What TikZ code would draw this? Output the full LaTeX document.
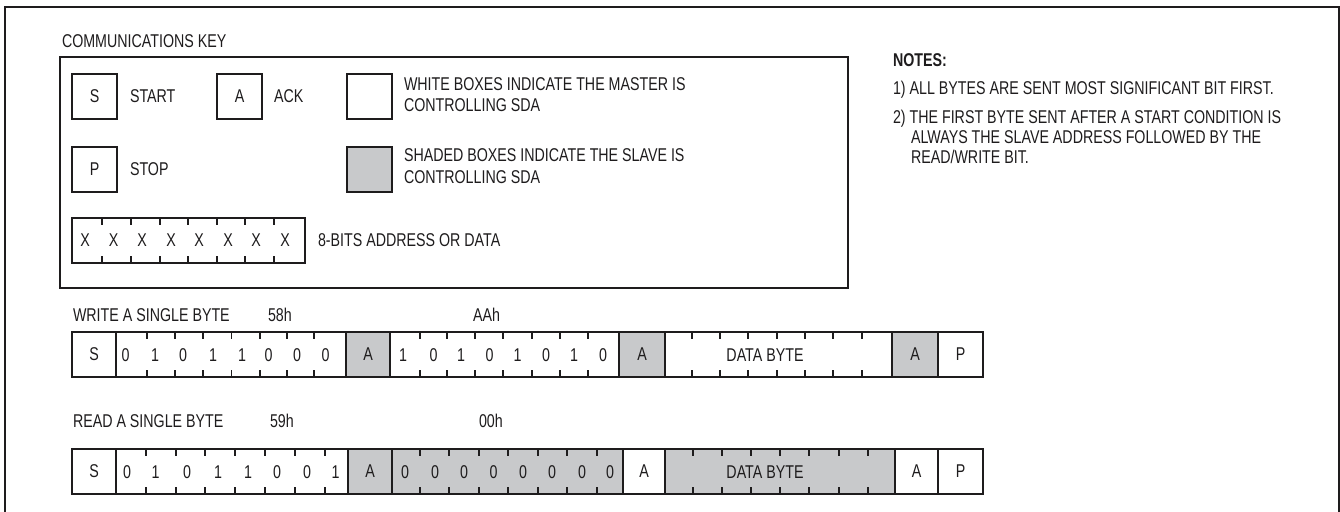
\documentclass[tikz,border=0pt]{standalone}
\usepackage{fontspec}
\setmainfont{Liberation Sans}[FakeStretch=0.77]
\definecolor{shade}{RGB}{200,201,203}
\definecolor{ink}{RGB}{30,28,29}
\tikzset{
  cell/.style={draw=ink, line width=1.3bp, inner sep=0pt, outer sep=0pt, minimum height=45bp, text=ink, anchor=north west},
  shadedcell/.style={cell, fill=shade},
  txt/.style={inner sep=0pt, outer sep=0pt, text=ink, anchor=base west},
  dig/.style={inner sep=0pt, outer sep=0pt, text=ink, anchor=base},
  tickline/.style={draw=ink, line width=1.3bp},
}
\newcommand\bitticks[3]{\foreach \tx in {#3} {\draw[tickline] (\tx,#1) -- ++(0,7); \draw[tickline] (\tx,#2) -- ++(0,-7);}}
\begin{document}
\begin{tikzpicture}[x=1bp,y=-1bp,font=\fontsize{18.5bp}{22bp}\selectfont]
\useasboundingbox (0,0) rectangle (1340,512);
% outer frame
\draw[ink, line width=2.2bp] (5,512) -- (5,7) -- (1339,7) -- (1339,512);

% ---------- communications key ----------
\node[txt] (title) at (62,48) {COMMUNICATIONS KEY};
\node[draw=ink, line width=1.4bp, inner sep=0pt, outer sep=0pt, minimum width=788bp, minimum height=231bp, anchor=north west] (key) at (60,57) {};

\node[cell, minimum width=45bp] (ks) at (72,74) {S};
\node[txt] (kstart) at (130,103) {START};
\node[cell, minimum width=45bp] (ka) at (217,74) {A};
\node[txt] (kack) at (274,103) {ACK};
\node[cell, minimum width=45bp] (kw) at (347,74) {};
\node[txt] (kw1) at (404,90.5) {WHITE BOXES INDICATE THE MASTER IS};
\node[txt] (kw2) at (404,112) {CONTROLLING SDA};

\node[cell, minimum width=45bp] (kp) at (72,147) {P};
\node[txt] (kstop) at (130,176) {STOP};
\node[shadedcell, minimum width=45bp] (kg) at (347,147) {};
\node[txt] (kg1) at (404,162) {SHADED BOXES INDICATE THE SLAVE IS};
\node[txt] (kg2) at (404,183.5) {CONTROLLING SDA};

\node[cell, minimum width=233bp] (kx) at (72,218) {};
\bitticks{218}{263}{102,131,160,188,217,245,274}
\foreach \x [count=\i] in {85,113.5,142,171,199,228,256,285} \node[dig] (kx\i) at (\x,247) {X};
\node[txt] (kxlabel) at (318,247) {8-BITS ADDRESS OR DATA};

% ---------- notes ----------
\node[txt, font=\fontsize{18.5bp}{22bp}\selectfont\bfseries] (notes) at (893,67) {NOTES:};
\node[txt] (n1) at (893,95) {1) ALL BYTES ARE SENT MOST SIGNIFICANT BIT FIRST.};
\node[txt] (n2a) at (893,123.5) {2) THE FIRST BYTE SENT AFTER A START CONDITION IS};
\node[txt] (n2b) at (911,143.5) {ALWAYS THE SLAVE ADDRESS FOLLOWED BY THE};
\node[txt] (n2c) at (911,163.5) {READ/WRITE BIT.};

% ---------- write a single byte ----------
\node[txt] (wtitle) at (73,321) {WRITE A SINGLE BYTE};
\node[txt] (w58) at (268,321) {58h};
\node[txt] (wAA) at (473,321) {AAh};

\node[cell, minimum width=44bp] (ws) at (72,332) {S};
\node[cell, minimum width=230bp] (wb1) at (116,332) {};
\node[shadedcell, minimum width=44bp] (wa1) at (346,332) {A};
\node[cell, minimum width=229bp] (wb2) at (390,332) {};
\node[shadedcell, minimum width=46bp] (wa2) at (619,332) {A};
\node[cell, minimum width=227bp] (wd) at (665,332) {};
\node[shadedcell, minimum width=46bp] (wa3) at (892,332) {A};
\node[cell, minimum width=45bp] (wp) at (938,332) {P};
\bitticks{332}{377}{147,175,203,231.5,260,287,314}
\bitticks{332}{377}{420,447,475,503,532,560,588}
\bitticks{332}{377}{692,720,748,777,805,833,862}
\foreach \x/\d [count=\i] in {125.5/0,155/1,183/0,213/1,242/1,268.5/0,297/0,325.5/0} \node[dig] (wx\i) at (\x,361) {\d};
\foreach \x/\d [count=\i] in {403/1,433.5/0,461/1,489.5/0,517.5/1,546/0,574/1,603/0} \node[dig] (wy\i) at (\x,361) {\d};
\node[dig] (wdtext) at (765,361) {DATA BYTE};

% ---------- read a single byte ----------
\node[txt] (rtitle) at (73,427) {READ A SINGLE BYTE};
\node[txt] (r59) at (270,427) {59h};
\node[txt] (r00) at (479,427) {00h};

\node[cell, minimum width=44bp] (rs) at (72,449) {S};
\node[cell, minimum width=232bp] (rb1) at (116,449) {};
\node[shadedcell, minimum width=44bp] (ra1) at (348,449) {A};
\node[shadedcell, minimum width=231bp] (rb2) at (392,449) {};
\node[cell, minimum width=42bp] (ra2) at (623,449) {A};
\node[shadedcell, minimum width=230bp] (rd) at (665,449) {};
\node[cell, minimum width=43bp] (ra3) at (895,449) {A};
\node[cell, minimum width=45bp] (rp) at (938,449) {P};
\bitticks{449}{494}{146,176,205,235,265,295,325}
\bitticks{449}{494}{420,449,479,508,538,567,597}
\bitticks{449}{494}{693,722,751,780,809,839,868}
\foreach \x/\d [count=\i] in {127/0,155.5/1,187/0,218/1,248/1,277/0,307/0,335.5/1} \node[dig] (rx\i) at (\x,478) {\d};
\foreach \x/\d [count=\i] in {405/0,435/0,464/0,493.5/0,523/0,552/0,582/0,610/0} \node[dig] (ry\i) at (\x,478) {\d};
\node[dig] (rdtext) at (765,478) {DATA BYTE};
\end{tikzpicture}
\end{document}
